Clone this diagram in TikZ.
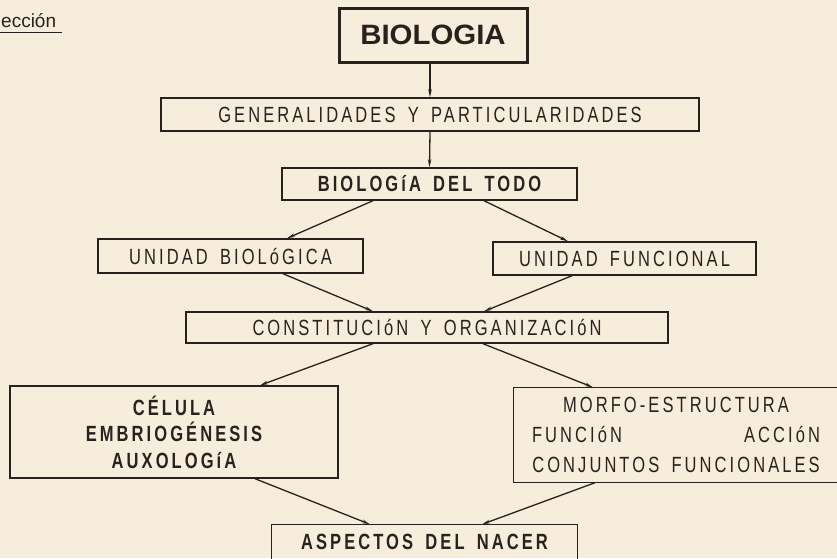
\documentclass[tikz,border=0pt]{standalone}
\usepackage{fontspec}
\usetikzlibrary{arrows.meta}
\setmainfont{Liberation Sans}
\newfontfamily\letrafont[FakeStretch=0.75,LetterSpace=14,WordSpace=1.6]{Liberation Sans}
\newfontfamily\titlefont[FakeStretch=1.05]{Liberation Sans}
\definecolor{paper}{RGB}{247,237,220}
\definecolor{ink}{RGB}{40,34,30}
\tikzset{
    caja/.style={draw=ink,line width=1.4pt,inner sep=0pt,text=ink,
        font=\letrafont\fontsize{22}{26}\selectfont},
    abierta/.style={caja,draw=none},
    borde/.style={draw=ink,line width=1.4pt},
    flecha/.style={draw=ink,line width=1.3pt,-{Stealth[length=8pt,width=3.5pt]}}
}
\begin{document}
\begin{tikzpicture}[x=1pt,y=-1pt]
    \fill[paper] (0,0) rectangle (837,558);
    \clip (0,0) rectangle (837,558);

    \node[anchor=base west,inner sep=0pt,text=ink,font=\fontsize{19}{23}\selectfont] (leccion) at (1,27) {ección};
    \draw[ink,line width=1pt] (leccion.base west) ++(-1,5) -- ++(62,0);

    \node[caja,line width=3pt,minimum width=188pt,minimum height=54pt] (bio) at (433,35)
        {\titlefont\bfseries\fontsize{28}{30}\selectfont BIOLOGIA};
    \node[caja,minimum width=538pt,minimum height=33pt] (gen) at (430,114.5) {GENERALIDADES Y PARTICULARIDADES};
    \node[caja,minimum width=295pt,minimum height=32pt] (todo) at (429.5,184) {\bfseries BIOLOGíA DEL TODO};
    \node[caja,minimum width=265pt,minimum height=34pt] (ubio) at (230.5,256) {UNIDAD BIOLóGICA};
    \node[caja,minimum width=263pt,minimum height=33pt] (ufun) at (624.5,258.5) {UNIDAD FUNCIONAL};
    \node[caja,minimum width=482pt,minimum height=31pt] (const) at (427,327.5) {CONSTITUCIóN Y ORGANIZACIóN};
    \node[caja,minimum width=328pt,minimum height=92pt,align=center,
        font=\letrafont\bfseries\fontsize{22}{26.5}\selectfont] (celula) at (174,432)
        {CÉLULA\\EMBRIOGÉNESIS\\AUXOLOGíA};
    \node[abierta,minimum width=324pt,minimum height=94pt,align=center,
        font=\letrafont\fontsize{22}{30}\selectfont] (morfo) at (676,435)
        {MORFO-ESTRUCTURA\\\makebox[288pt]{FUNCIóN\hfill ACCIóN}\\CONJUNTOS FUNCIONALES};
    \node[abierta,minimum width=305pt,minimum height=33pt] (nacer) at (424.5,541.5) {\bfseries ASPECTOS DEL NACER};

    \draw[borde] (morfo.north east) -- (morfo.north west) -- (morfo.south west) -- (morfo.south east);
    \draw[borde] (nacer.south west) -- (nacer.north west) -- (nacer.north east) -- (nacer.south east);

    \draw[flecha] (bio.south -| gen.north) -- (gen.north);
    \draw[flecha] (gen.south) -- (todo.north);
    \draw[flecha] ([xshift=-56.5pt]todo.south) -- ([xshift=56.5pt]ubio.north);
    \draw[flecha] ([xshift=54.5pt]todo.south) -- ([xshift=-56.5pt]ufun.north);
    \draw[flecha] ([xshift=52.5pt]ubio.south) -- ([xshift=-54pt]const.north);
    \draw[flecha] ([xshift=-52.5pt]ufun.south) -- ([xshift=57pt]const.north);
    \draw[flecha] ([xshift=-54pt]const.south) -- ([xshift=86pt]celula.north);
    \draw[flecha] ([xshift=56pt]const.south) -- ([xshift=-83pt]morfo.north);
    \draw[flecha] ([xshift=81pt]celula.south) -- ([xshift=-54.5pt]nacer.north);
    \draw[flecha] ([xshift=-81pt]morfo.south) -- ([xshift=57.5pt]nacer.north);
\end{tikzpicture}
\end{document}
